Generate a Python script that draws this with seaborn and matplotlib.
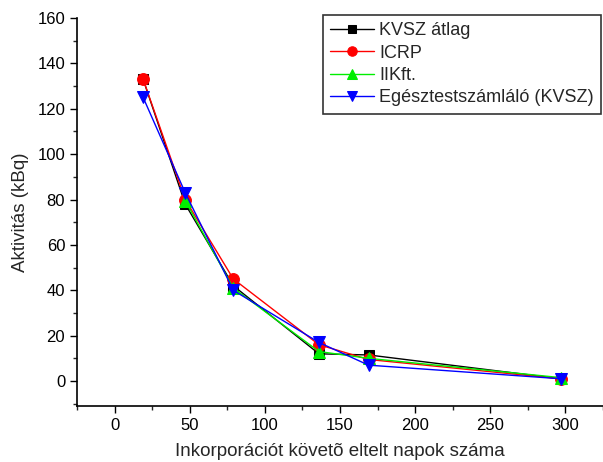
import matplotlib
matplotlib.use('Agg')
import matplotlib.pyplot as plt
import seaborn as sns
import pandas as pd
import numpy as np
from matplotlib.ticker import MultipleLocator

# adatok (leolvasva)
napok = [19, 47, 79, 136, 169, 297]
kvsz_atlag = [133, 78, 42, 12, 11.5, 1]
icrp = [133, 80, 45, 16, 9.5, 1]
iikft = [np.nan, 79.5, 41, 13, 10, 1.5]
egesztest = [125, 83, 40, 17, 7, 1]

sorozatok = ['KVSZ átlag', 'ICRP', 'IIKft.', 'Egésztestszámláló (KVSZ)']
ertekek = [kvsz_atlag, icrp, iikft, egesztest]
szinek = ['#000000', '#ff0000', '#00ee00', '#0000ff']
markerek = ['s', 'o', '^', 'v']
meretek = [7, 8.5, 8.5, 8.5]

rows = []
for nev, vals in zip(sorozatok, ertekek):
    for x, y in zip(napok, vals):
        rows.append({'nap': x, 'akt': y, 'sorozat': nev})
df = pd.DataFrame(rows).dropna()

sns.set_style('ticks')
plt.rcParams['font.family'] = ['Liberation Sans', 'DejaVu Sans']

fig = plt.figure(figsize=(6.03, 4.62), dpi=100)
ax = fig.add_axes([77 / 603, 1 - 406 / 462, 1 - 77 / 603, (406 - 18) / 462])

for nev, szin, mk, ms in zip(sorozatok, szinek, markerek, meretek):
    sub = df[df['sorozat'] == nev]
    sns.lineplot(data=sub, x='nap', y='akt', color=szin, marker=mk,
                 markersize=ms, markeredgecolor=szin, linewidth=1,
                 label=nev, ax=ax, estimator=None, sort=False)

ax.set_xlim(-25, 325)
ax.set_ylim(-11, 160)
ax.xaxis.set_major_locator(MultipleLocator(50))
ax.xaxis.set_minor_locator(MultipleLocator(25))
ax.yaxis.set_major_locator(MultipleLocator(20))
ax.yaxis.set_minor_locator(MultipleLocator(10))
ax.tick_params(which='major', direction='out', length=5, width=1, labelsize=12, colors='black')
ax.tick_params(which='minor', direction='out', length=3, width=1)
for s in ['top', 'right']:
    ax.spines[s].set_visible(False)
for s in ['left', 'bottom']:
    ax.spines[s].set_linewidth(1.2)
    ax.spines[s].set_color('black')

ax.set_xlabel('Inkorporációt követõ eltelt napok száma', fontsize=13.5, labelpad=7)
ax.set_ylabel('Aktivitás (kBq)', fontsize=13.5, labelpad=6)

leg = ax.legend(loc='upper left', bbox_to_anchor=(323 / 603, 1 - 15 / 462),
                bbox_transform=fig.transFigure, fontsize=13, frameon=True,
                fancybox=False, handlelength=2.4, handletextpad=0.3,
                borderpad=0.4, labelspacing=0.3, borderaxespad=0,
                markerscale=0.8)
leg.get_frame().set_edgecolor('black')
leg.get_frame().set_linewidth(1.2)

fig.savefig('out.png', dpi=100)
